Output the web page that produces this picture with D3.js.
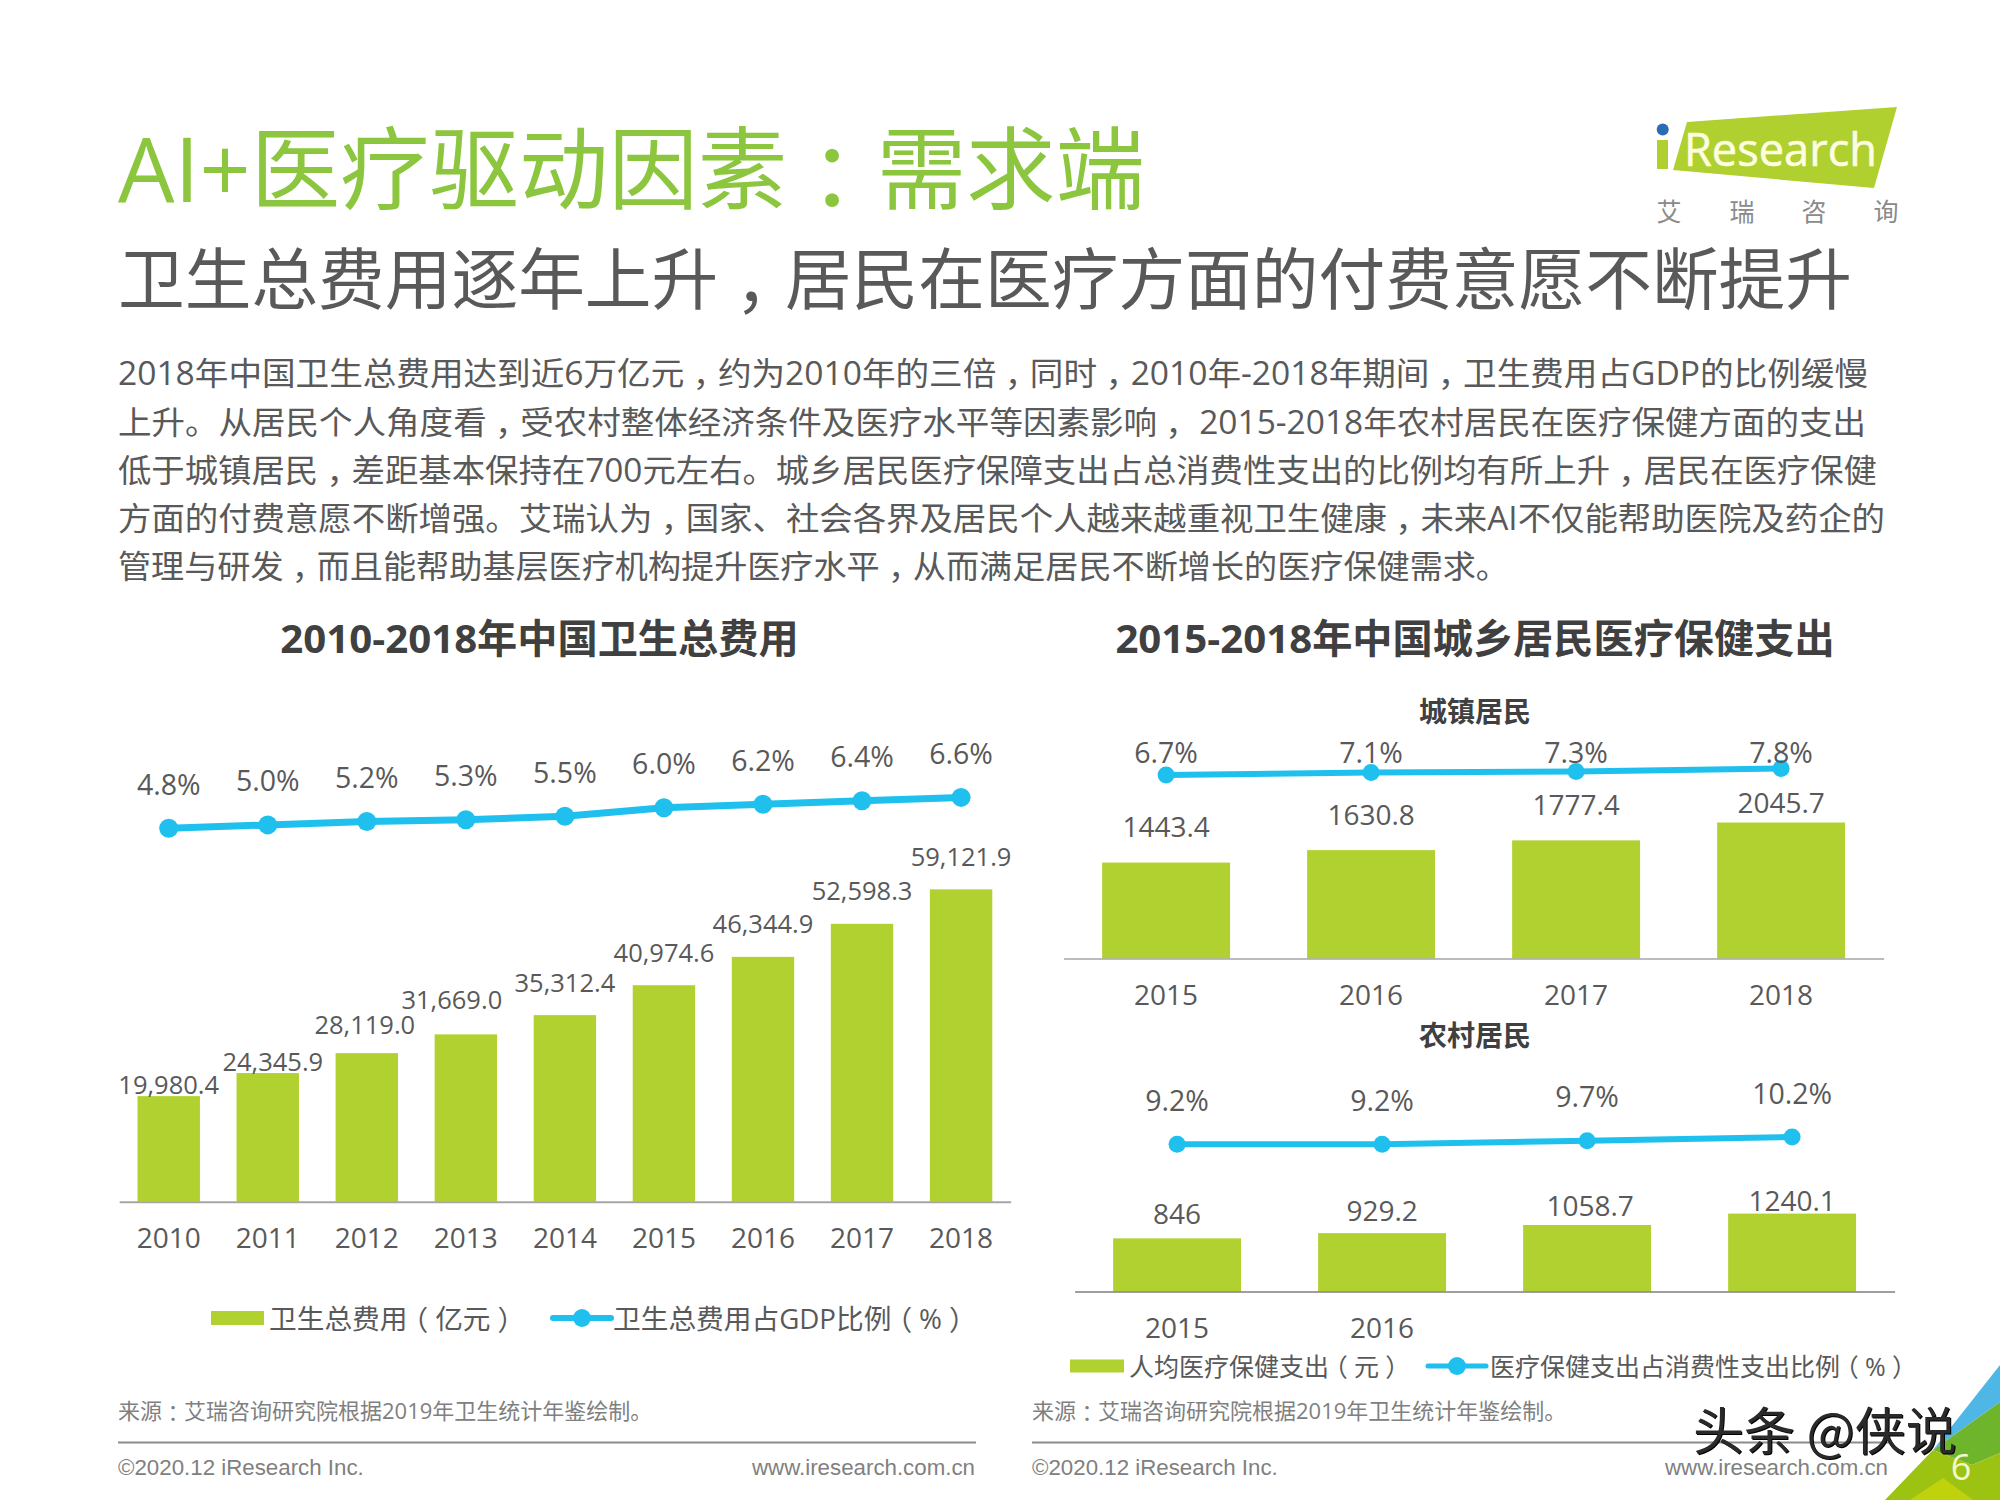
<!DOCTYPE html>
<html>
<head>
<meta charset="utf-8">
<script src="https://cdn.jsdelivr.net/npm/d3@7"></script>
<style>
  html, body { margin: 0; padding: 0; background: #fff; }
  text { font-family: "Open Sans", "Noto Sans CJK SC", sans-serif; fill: #595959; dominant-baseline: central; }
  .cjk { font-family: "Noto Sans CJK SC", sans-serif; }
  .foot { font-family: "Liberation Sans", sans-serif; fill: #808080; }
  .punct { font-family: "Noto Sans CJK SC", sans-serif; font-feature-settings: "halt"; }
</style>
</head>
<body>
<svg id="page" width="2000" height="1500"></svg>
<script>
// left chart
const yearsTotal = ["2010", "2011", "2012", "2013", "2014", "2015", "2016", "2017", "2018"];
const healthSpend = [19980.4, 24345.9, 28119.0, 31669.0, 35312.4, 40974.6, 46344.9, 52598.3, 59121.9];
const healthSpendLabels = ["19,980.4", "24,345.9", "28,119.0", "31,669.0", "35,312.4", "40,974.6", "46,344.9", "52,598.3", "59,121.9"];
const gdpShare = [4.8, 5.0, 5.2, 5.3, 5.5, 6.0, 6.2, 6.4, 6.6];

// right charts
const yearsResident = ["2015", "2016", "2017", "2018"];
const urbanSpend = [1443.4, 1630.8, 1777.4, 2045.7];
const urbanShare = [6.7, 7.1, 7.3, 7.8];
const ruralSpend = [846, 929.2, 1058.7, 1240.1];
const ruralShare = [9.2, 9.2, 9.7, 10.2];

const paragraph = [
  "2018年中国卫生总费用达到近6万亿元，约为2010年的三倍，同时，2010年-2018年期间，卫生费用占GDP的比例缓慢",
  "上升。从居民个人角度看，受农村整体经济条件及医疗水平等因素影响， 2015-2018年农村居民在医疗保健方面的支出",
  "低于城镇居民，差距基本保持在700元左右。城乡居民医疗保障支出占总消费性支出的比例均有所上升，居民在医疗保健",
  "方面的付费意愿不断增强。艾瑞认为，国家、社会各界及居民个人越来越重视卫生健康，未来AI不仅能帮助医院及药企的",
  "管理与研发，而且能帮助基层医疗机构提升医疗水平，从而满足居民不断增长的医疗保健需求。"
];

const GREEN = "#b0d12f", BLUE = "#1fc0ee", GREY = "#595959";
const svg = d3.select("#page");

// the source font centres these full-width marks, so set them half width and pad both sides
function txt(x, y, s, size, opts = {}) {
  const t = svg.append("text").attr("x", x).attr("y", y).attr("font-size", size);
  let carry = 0;
  s.split(/([，：（）])/).filter(p => p).forEach(p => {
    const isPunct = /^[，：（）]$/.test(p);
    const span = t.append("tspan").attr("dx", (carry + (isPunct ? 0.25 : 0)) * size).text(p);
    if (isPunct) span.attr("class", "punct");
    carry = isPunct ? 0.25 : 0;
  });
  if (opts.anchor) t.attr("text-anchor", opts.anchor);
  if (opts.weight) t.attr("font-weight", opts.weight);
  if (opts.fill) t.style("fill", opts.fill);
  if (opts.cls) t.attr("class", opts.cls);
  if (opts.len) t.attr("textLength", opts.len).attr("lengthAdjust", "spacingAndGlyphs");
  return t;
}

// header
txt(118, 167, "AI+医疗驱动因素：需求端", 90, { fill: "#8cc63f", len: 1027 });
txt(118, 278, "卫生总费用逐年上升，居民在医疗方面的付费意愿不断提升", 66.5, { fill: "#595959", len: 1734 });
const paraWidths = [1750, 1748, 1759, 1767, 1391];
const paraY = [372, 421, 469, 517, 565];
paragraph.forEach((p, i) => txt(118, paraY[i], p, 32, { len: paraWidths[i] }));

txt(539.5, 637, "2010-2018年中国卫生总费用", 40.2, { anchor: "middle", weight: 700, fill: "#404040" });
txt(1475, 637, "2015-2018年中国城乡居民医疗保健支出", 40.2, { anchor: "middle", weight: 700, fill: "#404040" });
txt(1475, 711, "城镇居民", 28, { anchor: "middle", weight: 700, fill: "#404040" });
txt(1475, 1035, "农村居民", 28, { anchor: "middle", weight: 700, fill: "#404040" });

// one bar + line panel
function drawCombo(cfg) {
  const x = d3.scaleBand().domain(cfg.cats).range(cfg.xRange).paddingInner(cfg.padding).paddingOuter(cfg.padding / 2);
  const yBar = d3.scaleLinear().domain(cfg.barDomain).range(cfg.barRange);
  const yLine = d3.scaleLinear().domain(cfg.lineDomain).range(cfg.lineRange);
  const g = svg.append("g");
  const cx = c => x(c) + x.bandwidth() / 2;

  g.selectAll("rect").data(cfg.cats).join("rect")
    .attr("x", d => x(d))
    .attr("width", x.bandwidth())
    .attr("y", (d, i) => yBar(cfg.bars[i]))
    .attr("height", (d, i) => yBar(0) - yBar(cfg.bars[i]))
    .attr("fill", GREEN);

  // axis sits on the bar baseline
  const axis = g.append("g")
    .attr("transform", `translate(0,${cfg.barRange[0]})`)
    .call(d3.axisBottom(x).tickSize(0).tickPadding(cfg.tickPad).tickValues(cfg.ticks || cfg.cats));
  axis.select(".domain").attr("stroke", cfg.axisColor).attr("stroke-width", cfg.axisWidth);
  axis.selectAll("text").attr("font-size", 28).attr("font-family", null).style("fill", GREY).attr("dy", 0);

  const line = d3.line().x((d, i) => cx(cfg.cats[i])).y(d => yLine(d));
  g.append("path").datum(cfg.share).attr("d", line).attr("fill", "none").attr("stroke", BLUE).attr("stroke-width", cfg.lineWidth);
  g.selectAll("circle").data(cfg.share).join("circle")
    .attr("cx", (d, i) => cx(cfg.cats[i])).attr("cy", d => yLine(d)).attr("r", cfg.r).attr("fill", BLUE);

  g.selectAll("text.share").data(cfg.share).join("text").attr("class", "share")
    .attr("x", (d, i) => cx(cfg.cats[i]))
    .attr("y", d => cfg.shareY !== undefined ? cfg.shareY : yLine(d) - 44.5)
    .attr("text-anchor", "middle").attr("font-size", 28.5)
    .text(d => d.toFixed(1) + "%");

  g.selectAll("text.val").data(cfg.bars).join("text").attr("class", "val")
    .attr("x", (d, i) => cx(cfg.cats[i]) + cfg.nudgeX[i])
    .attr("y", (d, i) => yBar(d) + cfg.nudgeY[i])
    .attr("text-anchor", "middle").attr("font-size", cfg.valSize)
    .text((d, i) => cfg.barLabels ? cfg.barLabels[i] : String(d));
}

drawCombo({
  cats: yearsTotal, bars: healthSpend, barLabels: healthSpendLabels, share: gdpShare,
  xRange: [119.2, 1010.6], padding: 0.37,
  barDomain: [0, 60000], barRange: [1201.7, 884.7],
  lineDomain: [4, 7], lineRange: [842.1, 790.5],
  tickPad: 35, axisColor: "#a6a6a6", axisWidth: 2, lineWidth: 7, r: 9.5, valSize: 25.5,
  nudgeX: [0, 5, -2, -14, 0, 0, 0, 0, 0],
  nudgeY: [-12.5, -12.5, -29.5, -35.5, -33.5, -33.5, -33.5, -33.5, -33.5]
});
drawCombo({
  cats: yearsResident, bars: urbanSpend, share: urbanShare,
  xRange: [1063.6, 1883.6], padding: 0.376,
  barDomain: [0, 2100], barRange: [958.6, 818.9],
  lineDomain: [6, 8], lineRange: [779.2, 767.2], shareY: 751.5,
  tickPad: 35, axisColor: "#a6a6a6", axisWidth: 1.5, lineWidth: 6, r: 8.5, valSize: 28,
  nudgeX: [0, 0, 0, 0],
  nudgeY: [-36.5, -36.5, -36.5, -20.5]
});
drawCombo({
  cats: yearsResident, bars: ruralSpend, share: ruralShare,
  ticks: ["2015", "2016"],
  xRange: [1074.6, 1894.6], padding: 0.376,
  barDomain: [0, 1300], barRange: [1291.6, 1209.8],
  lineDomain: [9, 11], lineRange: [1145.7, 1131.3],
  tickPad: 35, axisColor: "#7f7f7f", axisWidth: 1.5, lineWidth: 6, r: 8.5, valSize: 28,
  nudgeX: [0, 0, 3, 0],
  nudgeY: [-25.5, -23.5, -19.5, -14]
});

// legends
function legend(x0, x1, y, h, lx0, lx1, r, lw, size, a, ax, b, bx) {
  svg.append("rect").attr("x", x0).attr("y", y - h / 2).attr("width", x1 - x0).attr("height", h).attr("fill", GREEN);
  svg.append("line").attr("x1", lx0).attr("x2", lx1).attr("y1", y).attr("y2", y).attr("stroke", BLUE).attr("stroke-width", lw).attr("stroke-linecap", "round");
  svg.append("circle").attr("cx", (lx0 + lx1) / 2).attr("cy", y).attr("r", r).attr("fill", BLUE);
  txt(ax, y, a, size);
  txt(bx, y, b, size);
}
legend(211, 264, 1318, 14, 553, 611, 9, 6, 27.7, "卫生总费用（亿元）", 269, "卫生总费用占GDP比例（%）", 613);
legend(1070, 1124, 1366, 13, 1428, 1486, 9, 5, 25, "人均医疗保健支出（元）", 1129, "医疗保健支出占消费性支出比例（%）", 1490);

// footers
[[118, 976], [1032, 1889]].forEach(([a, b]) => {
  svg.append("line").attr("x1", a).attr("x2", b).attr("y1", 1442.5).attr("y2", 1442.5).attr("stroke", "#8c8c8c").attr("stroke-width", 2);
});
txt(118, 1410, "来源：艾瑞咨询研究院根据2019年卫生统计年鉴绘制。", 22, { fill: "#808080" });
txt(1032, 1410, "来源：艾瑞咨询研究院根据2019年卫生统计年鉴绘制。", 22, { fill: "#808080" });
txt(118, 1466.5, "©2020.12 iResearch Inc.", 22.3, { cls: "foot" });
txt(1032, 1466.5, "©2020.12 iResearch Inc.", 22.3, { cls: "foot" });
txt(975, 1466.5, "www.iresearch.com.cn", 22.3, { cls: "foot", anchor: "end" });
txt(1888, 1466.5, "www.iresearch.com.cn", 22.3, { cls: "foot", anchor: "end" });

// logo
svg.append("polygon").attr("points", "1687,122 1897,107 1874,188 1673,170").attr("fill", "#afd02e");
svg.append("rect").attr("x", 1657).attr("y", 140).attr("width", 11).attr("height", 29).attr("fill", "#afd02e");
svg.append("circle").attr("cx", 1662.7).attr("cy", 129.5).attr("r", 6).attr("fill", "#2a6db5");
txt(1684, 148, "Research", 46, { fill: "#fdfde0", len: 193 }).attr("stroke", "#fdfde0").attr("stroke-width", 0.6);
["艾", "瑞", "咨", "询"].forEach((c, i) => txt([1669, 1742, 1814, 1886][i], 211, c, 25, { anchor: "middle", fill: "#8a8a8a" }));

// corner decoration
svg.append("polygon").attr("points", "2000,1365 1933,1450 2000,1402").attr("fill", "#4fb7e6");
svg.append("polygon").attr("points", "1933,1450 2000,1402 2000,1453 1972,1465").attr("fill", "#6fb52c");
svg.append("polygon").attr("points", "1933,1450 1972,1465 2000,1453 2000,1500 1885,1500").attr("fill", "#9cc312");
svg.append("polygon").attr("points", "1910,1500 1943,1478 1973,1500").attr("fill", "#c0d20c");
txt(1961, 1466, "6", 36, { fill: "#f3f7cf", anchor: "middle" });

// watermark
const wm = txt(1693, 1428, "头条 @侠说", 51, { fill: "#2a2a2a", cls: "cjk" });
wm.style("filter", "drop-shadow(1px 1.5px 0 #000)");
</script>
</body>
</html>
